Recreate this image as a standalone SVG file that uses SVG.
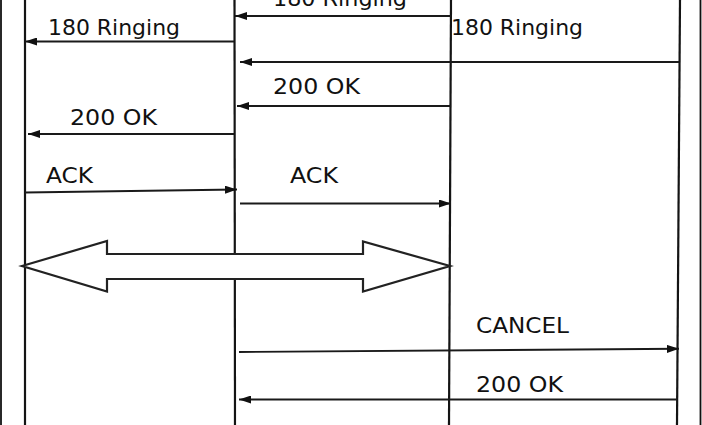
<svg xmlns="http://www.w3.org/2000/svg" width="702" height="425" viewBox="0 0 702 425">
  <style>
    .life { stroke: #141414; stroke-width: 2.2; fill: none; }
    .frame { stroke: #111; stroke-width: 1.8; fill: none; }
    .msg { stroke: #1a1a1a; stroke-width: 1.9; fill: none; }
    .lbl { font-family: "DejaVu Sans", Verdana, sans-serif; font-size: 21px; fill: #111; }
    .big { stroke: #222; stroke-width: 2.2; fill: #fff; stroke-linejoin: miter; }
  </style>
  <defs>
    <marker id="ah" viewBox="0 0 12 8" refX="12" refY="4" markerWidth="12" markerHeight="8" markerUnits="userSpaceOnUse" orient="auto">
      <path d="M0,0 L12,4 L0,8 Z" fill="#111"/>
    </marker>
  </defs>
  <rect width="702" height="425" fill="#fff"/>

  <g id="frame">
    <line class="frame" x1="1" y1="0" x2="1" y2="425"/>
    <line class="frame" x1="700.5" y1="0" x2="700.5" y2="425"/>
  </g>

  <g id="lifeline-1"><line class="life" x1="25" y1="0" x2="25" y2="425"/></g>
  <g id="lifeline-2"><line class="life" x1="234.5" y1="0" x2="235" y2="425"/></g>
  <g id="lifeline-3"><line class="life" x1="451" y1="0" x2="449" y2="425"/></g>
  <g id="lifeline-4"><line class="life" x1="680" y1="0" x2="677" y2="425"/></g>

  <g id="connectors">
    <line class="msg" x1="451" y1="16" x2="235" y2="16" marker-end="url(#ah)"/>
    <text class="lbl" x="273" y="6" textLength="134" lengthAdjust="spacingAndGlyphs">180 Ringing</text>

    <line class="msg" x1="234" y1="41.5" x2="25" y2="41.5" marker-end="url(#ah)"/>
    <text class="lbl" x="48" y="35" textLength="132" lengthAdjust="spacingAndGlyphs">180 Ringing</text>

    <line class="msg" x1="679" y1="62" x2="240" y2="62" marker-end="url(#ah)"/>
    <text class="lbl" x="451" y="35" textLength="132" lengthAdjust="spacingAndGlyphs">180 Ringing</text>

    <line class="msg" x1="451" y1="106" x2="237" y2="106" marker-end="url(#ah)"/>
    <text class="lbl" x="273" y="94" textLength="87" lengthAdjust="spacingAndGlyphs">200 OK</text>

    <line class="msg" x1="234" y1="134" x2="28" y2="134" marker-end="url(#ah)"/>
    <text class="lbl" x="70" y="125" textLength="87" lengthAdjust="spacingAndGlyphs">200 OK</text>

    <line class="msg" x1="25" y1="192.5" x2="237" y2="189.5" marker-end="url(#ah)"/>
    <text class="lbl" x="46" y="183" textLength="47" lengthAdjust="spacingAndGlyphs">ACK</text>

    <line class="msg" x1="240" y1="203.5" x2="451" y2="203.5" marker-end="url(#ah)"/>
    <text class="lbl" x="290" y="183" textLength="48" lengthAdjust="spacingAndGlyphs">ACK</text>

    <path class="big" d="M22,266 L107,241 L107,254 L363,254 L363,241.5 L450,266 L363,291.5 L363,279 L107,279 L107,291.5 Z"/>

    <line class="msg" x1="239" y1="352" x2="679" y2="348.8" marker-end="url(#ah)"/>
    <text class="lbl" x="476" y="333" textLength="93" lengthAdjust="spacingAndGlyphs">CANCEL</text>

    <line class="msg" x1="677" y1="399.5" x2="239" y2="399.5" marker-end="url(#ah)"/>
    <text class="lbl" x="476" y="392" textLength="87" lengthAdjust="spacingAndGlyphs">200 OK</text>
  </g>
</svg>
